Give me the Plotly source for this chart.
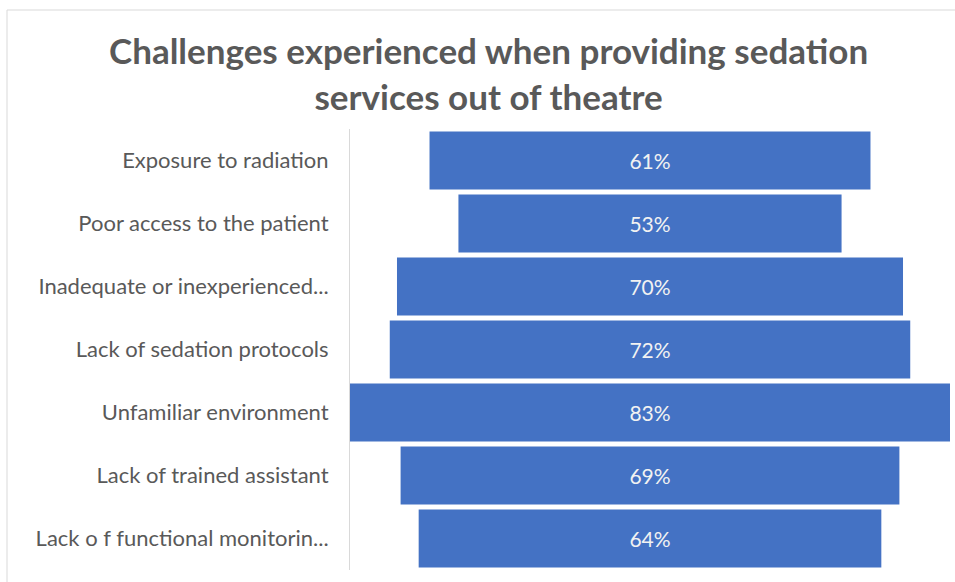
import plotly.graph_objects as go

# Survey responses: share of respondents reporting each challenge
challenges = [
    "Exposure to radiation",
    "Poor access to the patient",
    "Inadequate or inexperienced...",
    "Lack of sedation protocols",
    "Unfamiliar environment",
    "Lack of trained assistant",
    "Lack o f functional monitorin...",
]
percentages = [61, 53, 70, 72, 83, 69, 64]
value_labels = [f"{p}%" for p in percentages]

BAR_BLUE = "#4472C4"
TEXT_GREY = "#595959"
LINE_GREY = "#D9D9D9"
half = max(percentages) / 2

W, H = 955, 582
M_L, M_R, M_T, M_B = 350, 5, 129, 12
PLOT_W = W - M_L - M_R
PLOT_H = H - M_T - M_B


def px_to_paper_x(px):
    return (px - M_L) / PLOT_W


def px_to_paper_y(py):
    return (H - M_B - py) / PLOT_H


fig = go.Figure(
    go.Funnel(
        y=challenges,
        x=percentages,
        text=value_labels,
        textinfo="text",
        textposition="inside",
        insidetextanchor="middle",
        textfont=dict(family="Lato", size=21, color="#F2F2F2"),
        marker=dict(color=BAR_BLUE, line=dict(width=0)),
        connector=dict(visible=False),
        hoverinfo="y+text",
    )
)

fig.update_layout(
    width=W,
    height=H,
    margin=dict(l=M_L, r=M_R, t=M_T, b=M_B),
    paper_bgcolor="white",
    plot_bgcolor="white",
    showlegend=False,
    funnelgap=0.08,
    xaxis=dict(range=[-half, half], visible=False, showgrid=False, zeroline=False),
    yaxis=dict(
        showline=True,
        linecolor=LINE_GREY,
        linewidth=1,
        showgrid=False,
        ticks="",
        ticklabelstandoff=16,
        tickfont=dict(family="Lato", size=22, color=TEXT_GREY),
    ),
    annotations=[
        dict(
            text="<b>Challenges experienced when providing sedation<br>services out of theatre</b>",
            xref="paper", yref="paper",
            x=px_to_paper_x(488), y=px_to_paper_y(73),
            xanchor="center", yanchor="middle",
            showarrow=False,
            font=dict(family="Lato", size=35, color=TEXT_GREY),
        )
    ],
    shapes=[
        dict(type="line", xref="paper", yref="paper",
             x0=px_to_paper_x(7), x1=px_to_paper_x(W + 5),
             y0=px_to_paper_y(10), y1=px_to_paper_y(10),
             line=dict(color=LINE_GREY, width=1)),
        dict(type="line", xref="paper", yref="paper",
             x0=px_to_paper_x(7), x1=px_to_paper_x(7),
             y0=px_to_paper_y(10), y1=px_to_paper_y(H + 5),
             line=dict(color=LINE_GREY, width=1)),
    ],
)

fig.write_html("out.html")
